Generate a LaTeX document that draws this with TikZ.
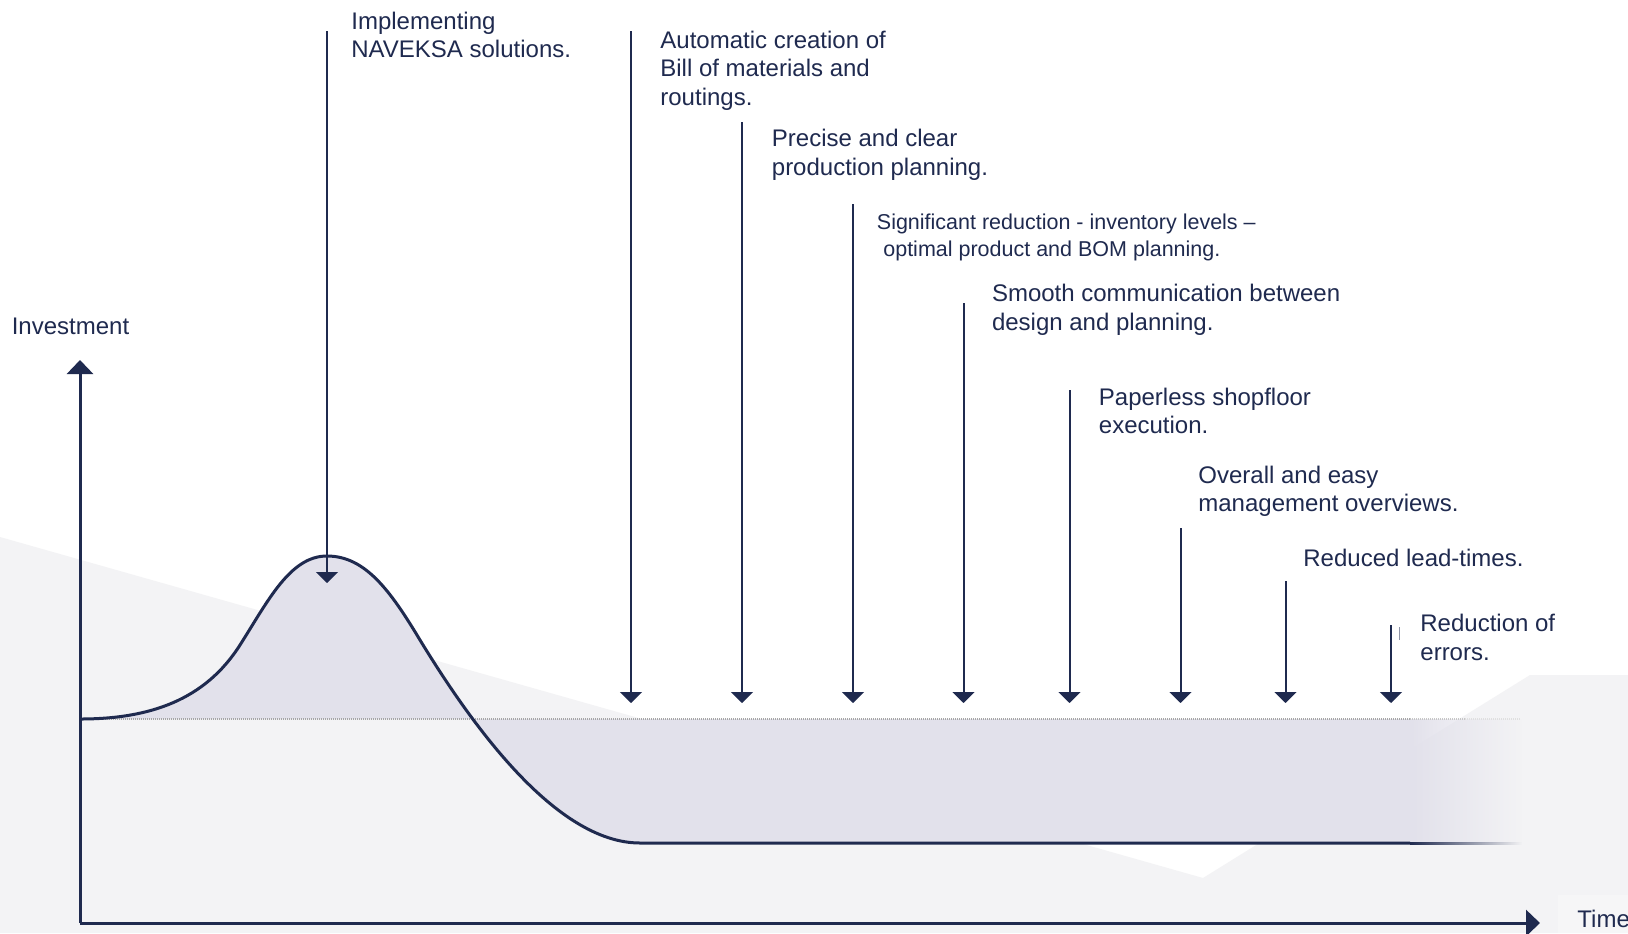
\documentclass[tikz,border=0pt]{standalone}
\usepackage{fontspec}
\setmainfont{Liberation Sans}
\usetikzlibrary{arrows.meta,fadings}
\definecolor{navy}{HTML}{1F2A4F}
\definecolor{lav}{HTML}{E2E1EB}
\definecolor{bggray}{HTML}{F3F3F5}
\definecolor{timebg}{HTML}{F6F6F7}
\tikzfading[name=fadeoutright, left color=transparent!0, right color=transparent!100]
\begin{document}
\begin{tikzpicture}[x=0.5pt,y=-0.5pt,
  lbl/.style={anchor=base west, inner sep=0pt, text=navy, font=\fontsize{12}{14.2}\selectfont, align=left},
  smalllbl/.style={lbl, font=\fontsize{10.75}{13.5}\selectfont},
  pointer/.style={draw=navy, line width=1pt, -{Triangle[width=11pt,length=5.5pt]}},
  axisline/.style={draw=navy, line width=1.5pt, -{Triangle[width=13pt,length=7pt]}},
  curveline/.style={draw=navy, line width=1.5pt},
  baseline/.style={draw=gray!70, line width=0.8pt, dash pattern=on 0.5pt off 0.5pt},
  ]
\useasboundingbox (0,0) rectangle (1628,933);
\fill[white] (0,0) rectangle (1628,933);
% background band
\fill[bggray] (0,537) -- (1203,878) -- (1530,675) -- (1628,675) -- (1628,933) -- (0,933) -- cycle;
\fill[timebg] (1558,895) rectangle (1628,933);
% lavender area
\fill[lav] (80,719) .. controls (150,719) and (205,700) .. (240,645)
  .. controls (268,601) and (290,556) .. (327,556)
  .. controls (365,556) and (390,590) .. (420,640)
  .. controls (470,722) and (555,843) .. (640,843)
  -- (1410,843) -- (1410,719) -- cycle;
\fill[lav, path fading=fadeoutright] (1410,719) rectangle (1522,843);
% dotted baseline
\draw[baseline] (95,719) -- (1410,719);
\draw[baseline, draw=gray!45] (1410,719) -- (1465,719);
\draw[baseline, draw=gray!25] (1465,719) -- (1520,719);
% investment curve
\coordinate (c0) at (80,719);
\coordinate (cpeak) at (327,556);
\coordinate (cbot) at (640,843);
\coordinate (cflat) at (1410,843);
\draw[curveline] (c0) .. controls (150,719) and (205,700) .. (240,645)
  .. controls (268,601) and (290,556) .. (cpeak)
  .. controls (365,556) and (390,590) .. (420,640)
  .. controls (470,722) and (555,843) .. (cbot) -- (cflat);
\fill[navy, path fading=fadeoutright] (1410,841.5) rectangle (1522,844.5);
% axes
\coordinate (origin) at (80,923);
\coordinate (ytop) at (80,360);
\coordinate (xend) at (1540,923);
\draw[axisline] (origin) -- (ytop);
\draw[axisline] (origin) -- (xend);
% pointers
\coordinate (p1s) at (327,31);     \coordinate (p1e) at (327,583);
\coordinate (p2s) at (631,31);     \coordinate (p2e) at (631,703);
\coordinate (p3s) at (742,122);    \coordinate (p3e) at (742,703);
\coordinate (p4s) at (853,204);    \coordinate (p4e) at (853,703);
\coordinate (p5s) at (963.5,303);  \coordinate (p5e) at (963.5,703);
\coordinate (p6s) at (1069.5,390); \coordinate (p6e) at (1069.5,703);
\coordinate (p7s) at (1180.5,528); \coordinate (p7e) at (1180.5,703);
\coordinate (p8s) at (1285.5,581); \coordinate (p8e) at (1285.5,703);
\coordinate (p9s) at (1391,625);   \coordinate (p9e) at (1391,703);
\foreach \i in {1,...,9} {\draw[pointer] (p\i s) -- (p\i e);}
\coordinate (ticks) at (1399,627); \coordinate (ticke) at (1399,640);
\draw[navy!50, line width=0.5pt] (ticks) -- (ticke);
% labels (anchor = baseline of last line)
\node[lbl] (t1) at (351,57.4) {Implementing\\NAVEKSA solutions.};
\node[lbl] (t2) at (660,105.1) {Automatic creation of\\Bill of materials and\\routings.};
\node[lbl] (t3) at (771.5,175.1) {Precise and clear\\production planning.};
\node[smalllbl] (t4) at (876.5,256) {Significant reduction - inventory levels --\\\hspace{0.3em}optimal product and BOM planning.};
\node[lbl] (t5) at (991.6,330.1) {Smooth communication between\\design and planning.};
\node[lbl] (t6) at (1098.5,433.4) {Paperless shopfloor\\execution.};
\node[lbl] (t7) at (1198,511.7) {Overall and easy\\management overviews.};
\node[lbl] (t8) at (1303,566) {Reduced lead-times.};
\node[lbl] (t9) at (1420,660.1) {Reduction of\\errors.};
\node[lbl] (ylab) at (11.4,334) {Investment};
\node[lbl] (xlab) at (1577,927) {Time};
\end{tikzpicture}
\end{document}
